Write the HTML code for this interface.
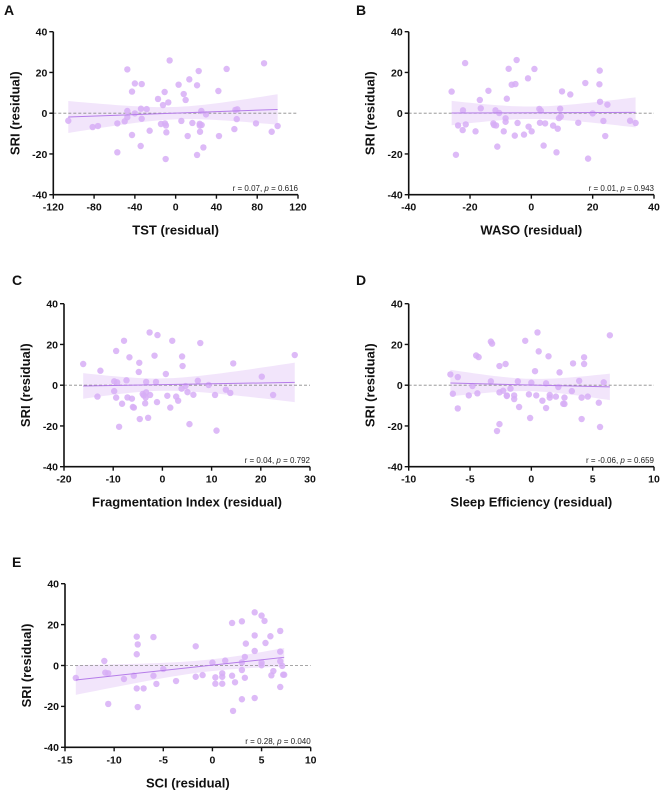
<!DOCTYPE html>
<html><head><meta charset="utf-8">
<style>
html,body{margin:0;padding:0;background:#fff;}
svg{display:block;font-family:"Liberation Sans",Arial,sans-serif;}
.tick{font-size:10.5px;font-weight:bold;fill:#111;}
.title{font-size:13px;font-weight:bold;fill:#111;}
.letter{font-size:14px;font-weight:bold;fill:#111;}
.ann{font-size:8px;fill:#222;}
</style></head>
<body>
<svg id="fig" width="661" height="791" viewBox="0 0 661 791" xmlns="http://www.w3.org/2000/svg"></svg>
<script>
const yTicks = [40, 20, 0, -20, -40];
const xTicksA = [-120, -80, -40, 0, 40, 80, 120];
const xTicksB = [-40, -20, 0, 20, 40];
const xTicksC = [-20, -10, 0, 10, 20, 30];
const xTicksD = [-10, -5, 0, 5, 10];
const xTicksE = [-15, -10, -5, 0, 5, 10];

const xA = [-105.3,-81.4,-76.2,-57.2,-57.2,-50,-47.4,-47.4,-47.4,-42.8,-42.8,-40,-40,-34,-33.3,-33.3,-34.3,-28.4,-25.5,-17.3,-14.4,-12.4,-10.8,-10.5,-9.5,-9.1,-9.8,-7.2,-5.9,2.9,5.6,7.9,9.8,11.8,13.4,16.4,21,21,22.6,23.6,23.6,23.9,25.2,25.5,27.2,29.8,41.9,42.5,50,57.6,58.6,59.9,60.5,78.8,86.7,94.2,100];
const yA = [-3.7,-6.8,-6.3,-5,-19.2,-4,21.5,1.1,-2,10.6,-10.7,14.6,-0.1,2.2,14.3,-2.7,-16.1,2,-8.6,7,-5.3,4,10.4,-5,-6,-9.4,-22.5,5.3,25.9,14,-3.8,9.4,6.5,-11.2,16.6,-4.8,-20.5,13.7,20.7,-5.2,-6,-9.1,1.1,-5.8,-16.8,-0.6,10.9,-11.2,21.7,-7.8,1.6,-2.9,1.9,-5,24.5,-9.1,-6.3];

const xB = [-26,-21.6,-22.3,-23.9,-24.6,-22.4,-21.4,-18.2,-16.8,-16.5,-14,-12.4,-12.2,-11.7,-11.5,-11.1,-10.5,-9,-8.4,-8.4,-8,-7.4,-6.4,-5.2,-5.4,-4.8,-4.5,-2.4,-1.1,-0.9,0.1,1,2.6,3.1,2.8,4,4.5,7.1,8.2,8.6,9,9.4,9.6,10,12.7,15.3,17.6,18.5,20,22.3,22.2,22.4,23.5,24.1,24.8,32.2,34];
const yB = [10.6,24.6,1.4,-6,-20.4,-8.3,-5.5,-8.9,6.5,2.4,11,-5,-5.8,1.4,-6,-16.4,0.1,-8.9,-2.5,-4.2,7.1,21.8,14,14.3,-11,26.1,-4.8,-10.5,17.1,-6.6,-8.9,21.7,2.1,1.2,-4.7,-15.9,-5,-6.1,-19.2,-7.6,-2.4,2.2,-1.6,10.7,9.2,-4.7,14.8,-22.3,-0.1,20.9,14.2,5.6,-3.8,-11.2,4.2,-3.7,-4.8];

const xC = [-16.1,-13.2,-12.6,-9.8,-9.8,-9.4,-9.4,-9.2,-8.8,-8.2,-7.8,-7.3,-7.1,-6.7,-6.2,-6,-5.8,-4.8,-4.7,-4.6,-4,-3.8,-3.5,-3.3,-3.3,-3.4,-2.9,-2.6,-2.5,-1.6,-1.3,-1.1,-1,0.7,1,1.6,2,2.8,3.2,3.9,4,4.1,4.7,5.1,5.5,6.3,7.2,7.7,9.4,10.7,11,12.9,13.8,14.4,20.2,22.5,26.9];
const yC = [10.4,-5.6,7.1,1.9,-2.9,-6.1,16.8,1.4,-20.4,-9.1,21.8,2.4,-6,13.7,-6.6,-10.7,-11,6.5,11,-16.6,-4.3,-5,-8.9,-3.5,1.6,-6,-16,25.9,-4.8,14.5,1.6,-8.3,24.6,5.5,-5.2,-11,21.8,-5.6,-7.6,-1.7,14.1,9.4,-0.4,-3.4,-19.1,-4.7,2.2,20.7,0.1,-4.8,-22.3,-2.2,-3.8,10.7,4.2,-4.8,14.8];

const xD = [-6.6,-6.4,-6,-6,-5.1,-4.8,-4.5,-4.3,-4.4,-3.3,-3.2,-3.3,-2.8,-2.6,-2.6,-2.6,-2.3,-2.1,-2,-2,-1.7,-1.4,-1.4,-1.1,-1,-0.5,-0.2,-0.1,0,0.3,0.4,0.5,0.6,0.9,1.2,1.2,1.4,1.5,1.5,2,2.2,2.3,2.6,2.7,2.7,3.3,3.4,3.9,4.1,4.1,4.3,4.3,4.6,5.5,5.6,5.9,6.4];
const yD = [5.3,-4.2,4,-11.4,-5,-0.4,14.6,13.8,-4,21.4,20.4,1.9,-22.5,-19.1,9.4,-3.5,-2.7,10.4,-5,-5.3,-1.7,-5,-6.8,1.9,-10.7,21.8,-4.5,-16.1,1.2,6.9,-5,25.9,16.6,-7.6,0.9,-11.2,14.2,-4.8,-6.1,-5.6,-0.9,6.3,-9.1,-9.2,-6.1,-2.9,10.7,2.1,-6.1,-16.6,13.7,10.4,-5.6,-8.6,-20.5,1.4,24.5];

const xE = [-13.9,-11,-10.9,-10.6,-10.6,-9,-8,-7.7,-7.6,-7.7,-7.7,-7.6,-7,-6,-6,-5.7,-5,-3.7,-1.7,-1.7,-1,0,0.3,0.3,1,1,1,1.3,2,2,2.1,2.3,3,3,3,3,3.3,3.3,3.4,4.3,4.3,4.3,4.3,5,5,5,5.3,5.4,5.9,6,6.2,6.9,6.9,6.9,6.9,7.1,7.2,7.3];
const yE = [-6.1,2.2,-3.5,-3.8,-18.8,-6.6,-5,14.1,10.3,5.5,-11.2,-20.3,-11.2,13.9,-5,-9,-1.7,-7.6,9.4,-5.5,-4.7,1.4,-5.8,-8.9,-3.8,-5.5,-8.9,2.4,20.8,-5,-22.2,-8.2,21.6,1.5,-2.2,-16.5,-6,4.2,10.7,26,14.7,7.1,-15.9,24.4,1.4,0.1,21.8,11,14.3,-4.8,-2.7,16.9,6.8,2.1,-10.5,-0.2,-4.5,-4.5];

const letters = ['A','B','C','D','E'];
const xTitles = ['TST (residual)','WASO (residual)','Fragmentation Index (residual)','Sleep Efficiency (residual)','SCI (residual)'];
const rVals = ['0.07','0.01','0.04','-0.06','0.28'];
const pVals = ['0.616','0.943','0.792','0.659','0.040'];

const NS = 'http://www.w3.org/2000/svg';
const svg = document.getElementById('fig');
function el(tag, attrs, parent) {
  const e = document.createElementNS(NS, tag);
  for (const k in attrs) e.setAttribute(k, attrs[k]);
  (parent || svg).appendChild(e);
  return e;
}

const panels = [
  {xs:xA, ys:yA, ticks:xTicksA, L:53.3, R:298, T:31.7, B:194.7, lx:4, ly:15, key:'a'},
  {xs:xB, ys:yB, ticks:xTicksB, L:408.7, R:654, T:31.7, B:194.7, lx:356, ly:15, key:'b'},
  {xs:xC, ys:yC, ticks:xTicksC, L:64, R:310, T:303.7, B:466.7, lx:12, ly:285, key:'c'},
  {xs:xD, ys:yD, ticks:xTicksD, L:408.7, R:654, T:303.7, B:466.7, lx:356, ly:285, key:'d'},
  {xs:xE, ys:yE, ticks:xTicksE, L:65, R:310.7, T:583.7, B:747.3, lx:12, ly:567, key:'e'}
];

panels.forEach((p, i) => {
  const g = el('g', {});
  
  
  const xmin = p.ticks[0], xmax = p.ticks[p.ticks.length - 1];
  const sx = v => p.L + (v - xmin) / (xmax - xmin) * (p.R - p.L);
  const sy = v => p.B - (v + 40) / 80 * (p.B - p.T);

  const lt = el('text', {x:p.lx, y:p.ly, class:'letter'}, g);
  lt.textContent = letters[i];
  
  

  // regression
  const n = p.xs.length;
  const mx = p.xs.reduce((a,b)=>a+b,0)/n, my = p.ys.reduce((a,b)=>a+b,0)/n;
  let sxx=0, sxy=0;
  for (let k=0;k<n;k++){ sxx += (p.xs[k]-mx)**2; sxy += (p.xs[k]-mx)*(p.ys[k]-my); }
  const b1 = sxy/sxx, b0 = my - b1*mx;
  let sse=0;
  for (let k=0;k<n;k++){ sse += (p.ys[k]-b0-b1*p.xs[k])**2; }
  const s = Math.sqrt(sse/(n-2));
  const x0 = Math.min(...p.xs), x1 = Math.max(...p.xs);
  const up=[], lo=[];
  for (let k=0;k<=40;k++){
    const xv = x0 + (x1-x0)*k/40;
    const se = 2.0*s*Math.sqrt(1/n + (xv-mx)**2/sxx);
    const yh = b0 + b1*xv;
    up.push(sx(xv).toFixed(2)+','+sy(yh+se).toFixed(2));
    lo.unshift(sx(xv).toFixed(2)+','+sy(yh-se).toFixed(2));
  }
  const band = el('polygon', {points: up.concat(lo).join(' '), fill:'#eddcfa', 'fill-opacity':'0.75'}, g);
  
  

  const zl = el('line', {x1:p.L, x2:p.R, y1:sy(0), y2:sy(0), stroke:'#8a8a8a', 'stroke-width':0.8, 'stroke-dasharray':'3,2'}, g);
  
  

  for (let k=0;k<n;k++){
    const c = el('circle', {cx:sx(p.xs[k]), cy:sy(p.ys[k]), r:3.2, fill:'#d7aef6', 'fill-opacity':'0.85'}, g);
    
    
  }

  const rl = el('line', {x1:sx(x0), y1:sy(b0+b1*x0), x2:sx(x1), y2:sy(b0+b1*x1), stroke:'#b57ce9', 'stroke-width':1}, g);
  
  

  // axes
  const ya = el('line', {x1:p.L, x2:p.L, y1:p.T, y2:p.B, stroke:'#111', 'stroke-width':1.6}, g);
  
  
  const xa = el('line', {x1:p.L, x2:p.R, y1:p.B, y2:p.B, stroke:'#111', 'stroke-width':1.6}, g);
  
  

  yTicks.forEach(t => {
    el('line', {x1:p.L-4, x2:p.L, y1:sy(t), y2:sy(t), stroke:'#111', 'stroke-width':1.4}, g);
    const tx = el('text', {x:p.L-6, y:sy(t)+3.8, 'text-anchor':'end', class:'tick'}, g);
    tx.textContent = t;
    
    
  });
  p.ticks.forEach(t => {
    el('line', {x1:sx(t), x2:sx(t), y1:p.B, y2:p.B+4, stroke:'#111', 'stroke-width':1.4}, g);
    const tx = el('text', {x:sx(t), y:p.B+16, 'text-anchor':'middle', class:'tick'}, g);
    tx.textContent = t;
    
    
  });

  const xt = el('text', {x:(p.L+p.R)/2, y:p.B+40, 'text-anchor':'middle', class:'title'}, g);
  xt.textContent = xTitles[i];
  
  

  const yc = (p.T+p.B)/2, yx = p.L - 34;
  const yt = el('text', {x:yx, y:yc, 'text-anchor':'middle', class:'title', transform:'rotate(-90 '+yx+' '+yc+')'}, g);
  yt.textContent = 'SRI (residual)';
  
  

  const an = el('text', {x:p.R, y:p.B-3.5, 'text-anchor':'end', class:'ann'}, g);
  
  
  an.appendChild(document.createTextNode('r = ' + rVals[i] + ', '));
  const pi = el('tspan', {'font-style':'italic'}, an);
  pi.textContent = 'p';
  an.appendChild(document.createTextNode(' = ' + pVals[i]));
});
</script>
</body></html>
